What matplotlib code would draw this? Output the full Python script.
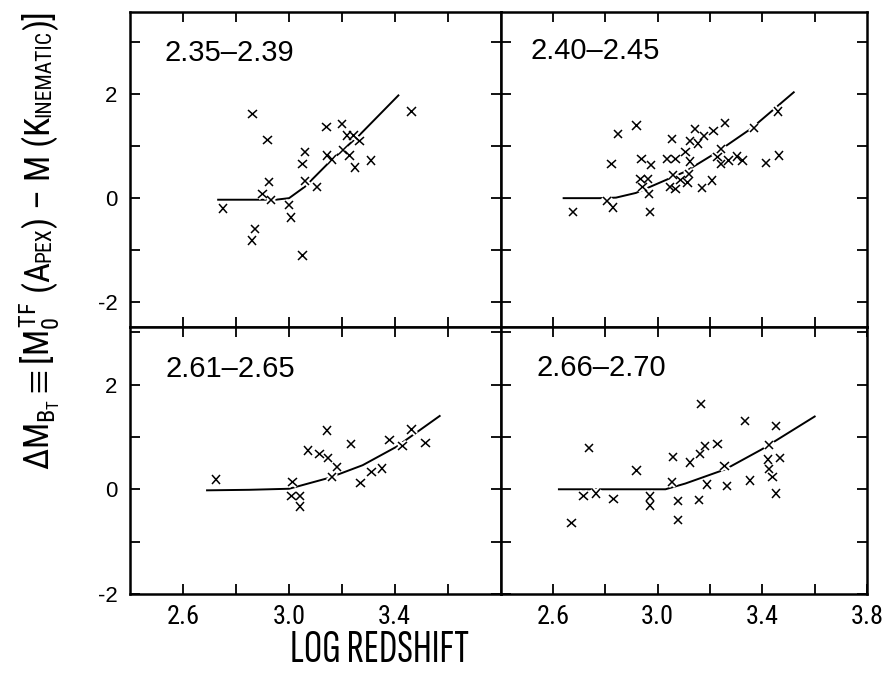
import matplotlib
matplotlib.use('Agg')
import matplotlib.pyplot as plt
import matplotlib.patheffects as pe
from matplotlib import font_manager

# redshift bins
bins = ['2.35\u20132.39', '2.40\u20132.45', '2.61\u20132.65', '2.66\u20132.70']

# points per bin (log redshift, delta M)
x1 = [2.752, 2.863, 2.919, 2.925, 2.901, 2.933, 2.873, 2.860, 3.001, 3.009, 3.052, 3.061, 3.052, 3.061,
      3.106, 3.142, 3.144, 3.162, 3.202, 3.205, 3.219, 3.229, 3.244, 3.267, 3.249, 3.310, 3.463]
y1 = [-0.20, 1.61, 1.12, 0.31, 0.08, -0.04, -0.59, -0.81, -0.13, -0.37, -1.10, 0.89, 0.66, 0.33,
      0.22, 1.37, 0.82, 0.74, 1.42, 0.92, 1.20, 0.82, 1.20, 1.09, 0.59, 0.72, 1.66]

x2 = [2.676, 2.806, 2.830, 2.824, 2.849, 2.920, 2.939, 2.976, 2.935, 2.963, 2.942, 2.967, 2.970, 3.037,
      3.054, 3.068, 3.058, 3.048, 3.068, 3.087, 3.106, 3.114, 3.119, 3.125, 3.123, 3.142, 3.154, 3.176,
      3.169, 3.207, 3.214, 3.258, 3.243, 3.229, 3.243, 3.271, 3.304, 3.324, 3.368, 3.415, 3.464, 3.460]
y2 = [-0.27, -0.06, -0.18, 0.65, 1.23, 1.39, 0.75, 0.64, 0.37, 0.37, 0.22, 0.08, -0.27, 0.75,
      1.14, 0.75, 0.45, 0.22, 0.17, 0.35, 0.89, 0.30, 0.46, 0.70, 1.10, 1.33, 1.05, 1.19,
      0.19, 0.34, 1.29, 1.44, 0.94, 0.79, 0.66, 0.72, 0.80, 0.72, 1.35, 0.68, 0.82, 1.66]

x3 = [2.724, 3.014, 3.010, 3.042, 3.042, 3.073, 3.116, 3.144, 3.149, 3.181, 3.162, 3.234, 3.271,
      3.312, 3.351, 3.381, 3.429, 3.464, 3.516]
y3 = [0.19, 0.14, -0.13, -0.13, -0.33, 0.74, 0.68, 1.12, 0.60, 0.42, 0.24, 0.87, 0.12,
      0.33, 0.40, 0.94, 0.83, 1.14, 0.88]

x4 = [2.671, 2.717, 2.765, 2.737, 2.832, 2.919, 2.971, 2.971, 3.054, 3.058, 3.077, 3.077, 3.125,
      3.157, 3.161, 3.165, 3.182, 3.188, 3.229, 3.255, 3.266, 3.334, 3.353, 3.425, 3.422, 3.425,
      3.439, 3.452, 3.468, 3.453]
y4 = [-0.64, -0.13, -0.08, 0.79, -0.18, 0.36, -0.14, -0.31, 0.14, 0.62, -0.22, -0.59, 0.51,
      -0.21, 0.68, 1.63, 0.83, 0.09, 0.87, 0.45, 0.06, 1.31, 0.17, 0.84, 0.57, 0.39,
      0.24, 1.21, 0.60, -0.08]

# fitted curves
cx1 = [2.733, 2.951, 3.001, 3.061, 3.153, 3.267, 3.414]
cy1 = [-0.03, -0.03, 0.0, 0.22, 0.69, 1.21, 1.97]
cx2 = [2.641, 2.778, 2.841, 2.917, 3.005, 3.106, 3.220, 3.359, 3.520]
cy2 = [0.0, 0.0, 0.01, 0.10, 0.29, 0.51, 0.86, 1.34, 2.03]
cx3 = [2.691, 2.850, 3.001, 3.153, 3.279, 3.406, 3.570]
cy3 = [-0.02, -0.01, 0.01, 0.22, 0.46, 0.81, 1.40]
cx4 = [2.623, 2.850, 3.030, 3.106, 3.258, 3.397, 3.600]
cy4 = [0.0, 0.0, 0.0, 0.11, 0.38, 0.76, 1.39]

names = {f.name for f in font_manager.fontManager.ttflist}
reg = 'Liberation Sans'
cond = 'Roboto Condensed' if 'Roboto Condensed' in names else reg
extra = [n for n in ['Roboto Condensed', 'Barlow Condensed', 'Fira Sans Extra Condensed',
                     'Sofia Sans Extra Condensed', 'Saira ExtraCondensed'] if n in names] or [reg]

plt.rcParams['font.family'] = [reg, 'DejaVu Sans']
plt.rcParams['axes.unicode_minus'] = False
plt.rcParams['mathtext.fontset'] = 'custom'
plt.rcParams['mathtext.rm'] = cond
plt.rcParams['mathtext.it'] = cond
plt.rcParams['mathtext.bf'] = cond
plt.rcParams['mathtext.fallback'] = 'stixsans'

fig = plt.figure(figsize=(8.9, 6.75), dpi=100)
renderer = fig.canvas.get_renderer()
inv = fig.transFigure.inverted()

L, M, R = 0.1461, 0.5624, 0.9742
B, H, T = 0.12, 0.5156, 0.9815
boxes = [(L, H, M - L, T - H), (M, H, R - M, T - H),
         (L, B, M - L, H - B), (M, B, R - M, H - B)]
xs = [x1, x2, x3, x4]
ys = [y1, y2, y3, y4]
cxs = [cx1, cx2, cx3, cx4]
cys = [cy1, cy2, cy3, cy4]
lab_pos = [(0.094, 0.846), (0.082, 0.851), (0.097, 0.814), (0.097, 0.818)]

halo = [pe.Stroke(linewidth=4, foreground='white'), pe.Normal()]

for i in range(4):
    ax = fig.add_axes(boxes[i])
    ax.plot(cxs[i], cys[i], color='black', linewidth=1.4, zorder=2)
    ax.plot(xs[i], ys[i], linestyle='none', marker='x', color='black',
            markersize=6, markeredgewidth=1.1, zorder=3, path_effects=halo)
    ax.text(lab_pos[i][0], lab_pos[i][1], bins[i], transform=ax.transAxes,
            fontsize=21, ha='left', va='baseline')
    ax.set_xlim(2.4, 3.8)
    if i < 2:
        ax.set_ylim(-2.47, 3.56)
    else:
        ax.set_ylim(-2.0, 3.1)
    ax.set_yticks([-2, 0, 2])
    ax.set_yticks([-1, 1, 3], minor=True)
    if i == 3:
        ax.set_xticks([2.6, 3.0, 3.4, 3.8])
    else:
        ax.set_xticks([2.6, 3.0, 3.4])
    ax.set_xticks([2.8, 3.2, 3.6], minor=True)
    ax.tick_params(which='both', direction='in', top=True, right=True,
                   length=7, width=1.3)
    ax.tick_params(axis='y', labelsize=16, pad=9)
    ax.tick_params(axis='x', pad=8)
    for sp in ax.spines.values():
        sp.set_linewidth(1.8)
    if i < 2:
        ax.tick_params(axis='x', labelbottom=False)
    else:
        ax.set_xticklabels([f'{v:.1f}' for v in ax.get_xticks()],
                           fontfamily=cond, fontsize=19)
    if i % 2 == 1:
        ax.tick_params(axis='y', labelleft=False)

# x label: pick the condensed face whose width is closest to the original
best = None
for fam in extra:
    t = fig.text(379 / 890, 1 - 662 / 675, 'LOG REDSHIFT', fontfamily=fam, fontsize=33,
                 ha='center', va='baseline')
    w = t.get_window_extent(renderer).width
    t.remove()
    if best is None or abs(w - 182) < best[1]:
        best = (fam, abs(w - 182))
fig.text(379 / 890, 1 - 662 / 675, 'LOG REDSHIFT', fontfamily=best[0], fontsize=33,
         ha='center', va='baseline')

# y label built from pieces so the small caps sit on one baseline
pieces = [(r'$\Delta M_{B_T} \equiv [M_0^{TF}$', 1.0), (' (A', 1.0), ('PEX', 0.62),
          (') \u2013 M (K', 1.0), ('INEMATIC', 0.62), (')]', 1.0)]
bx = 50 / 890
y0 = 1 - 470 / 675


def build_ylabel(size):
    by = y0
    made = []
    for txt, f in pieces:
        t = fig.text(bx, by, txt, fontsize=size * f, rotation=90, rotation_mode='anchor',
                     ha='left', va='baseline', fontfamily=[cond, 'DejaVu Sans'])
        ext = t.get_window_extent(renderer)
        by = inv.transform((0, ext.y1))[1]
        made.append(t)
    return made, (by - y0) * 675


size = 30
made, length = build_ylabel(size)
for t in made:
    t.remove()
size = size * 460 / length
made, length = build_ylabel(size)

fig.savefig('out.png', dpi=100)
